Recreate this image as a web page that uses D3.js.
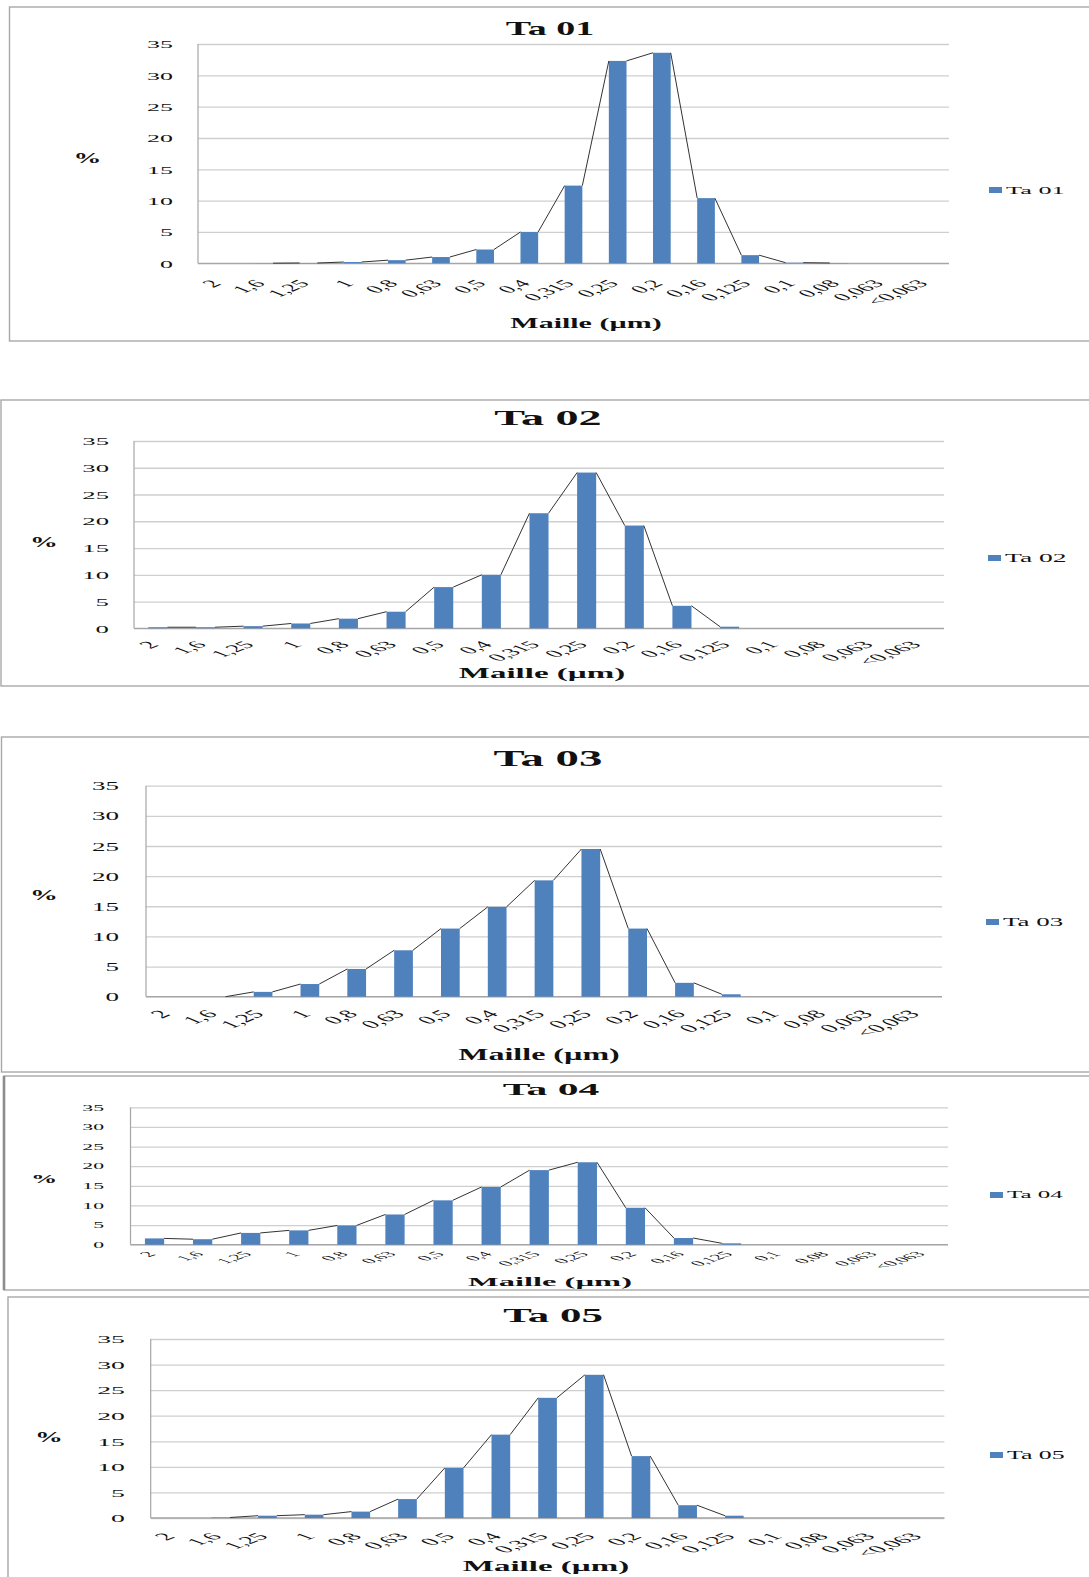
<!DOCTYPE html>
<html>
<head>
<meta charset="utf-8">
<script src="https://cdn.jsdelivr.net/npm/d3@7"></script>
<style>
  html, body { margin: 0; padding: 0; background: #fff; }
  svg { display: block; }
  text { font-family: "Liberation Serif", "Times New Roman", serif; fill: #111; }
</style>
</head>
<body>
<svg id="chart" width="1089" height="1577"></svg>
<script>
// Sieve classes (mesh size, µm) shared by every sample
const categories = ["2", "1,6", "1,25", "1", "0,8", "0,63", "0,5", "0,4", "0,315",
  "0,25", "0,2", "0,16", "0,125", "0,1", "0,08", "0,063", "<0,063"];

// Y axis ticks (%)
const yTicks = [0, 5, 10, 15, 20, 25, 30, 35];

// Weight percentage retained on each sieve, per sample (null = no measurement)
const ta01 = [null, 0.02, 0.05, 0.2, 0.5, 1.0, 2.2, 5.0, 12.4, 32.3, 33.6, 10.4, 1.3, 0.1, 0.05, null, null];
const ta02 = [0.2, 0.2, 0.4, 0.9, 1.8, 3.1, 7.7, 10.0, 21.5, 29.1, 19.2, 4.2, 0.3, null, null, null, null];
const ta03 = [null, 0, 0.8, 2.1, 4.6, 7.7, 11.3, 14.9, 19.3, 24.5, 11.3, 2.3, 0.4, null, null, null, null];
const ta04 = [1.6, 1.4, 3.0, 3.65, 4.9, 7.7, 11.3, 14.7, 19.0, 21.0, 9.4, 1.7, 0.35, null, null, null, null];
const ta05 = [null, 0.1, 0.45, 0.65, 1.25, 3.7, 9.8, 16.3, 23.5, 28.0, 12.1, 2.5, 0.45, null, null, null, null];

const sampleNames = ["Ta 01", "Ta 02", "Ta 03", "Ta 04", "Ta 05"];
const sampleValues = [ta01, ta02, ta03, ta04, ta05];

const yLabel = "%";
const xLabel = "Maille (µm)";

const BAR = "#4F81BD";

// Layout of each chart block on the page (text is drawn horizontally widened)
const layouts = [
  { frame: [9.5, 7, 1200, 334], plot: [198, 949, 263.3, 44],
    title: [550, 35, 19, 2.0], tick: [10.8, 2.4, 173], xTickOff: 21,
    pct: [87.5, 163, 15.5, 1.8], axisTitle: [586, 328, 15, 2.0], legend: [989, 190, 10.5, 2.5] },
  { frame: [1, 400, 1200, 286], plot: [134, 944, 628.3, 441],
    title: [548, 425, 21, 2.2], tick: [10.3, 2.6, 109], xTickOff: 17,
    pct: [44, 547, 15.5, 1.8], axisTitle: [542, 678, 15, 2.2], legend: [988, 558, 12, 2.3] },
  { frame: [1.5, 737, 1200, 335], plot: [146, 942, 996.7, 785.7],
    title: [548, 766, 22.5, 2.08], tick: [11.5, 2.35, 119], xTickOff: 18,
    pct: [44, 900, 15.5, 1.8], axisTitle: [539, 1060, 16, 2.0], legend: [986, 922, 12, 2.25] },
  { frame: [4, 1076, 1200, 214], plot: [130.5, 948, 1244.7, 1107.3],
    title: [551, 1095, 16, 2.6], tick: [7.5, 2.9, 104], xTickOff: 10,
    pct: [44, 1183, 12.5, 2.1], axisTitle: [550, 1286, 13, 2.5], legend: [990, 1195, 10, 2.5] },
  { frame: [8, 1297, 1200, 400], plot: [150.7, 944.4, 1518, 1339],
    title: [553, 1322, 19.5, 2.2], tick: [10.3, 2.7, 125], xTickOff: 19,
    pct: [49, 1442, 15.5, 1.8], axisTitle: [546, 1571, 15, 2.2], legend: [990, 1455, 12, 2.15] }
];

const svg = d3.select("#chart");
svg.append("rect").attr("width", 1089).attr("height", 1577).attr("fill", "#fff");

// Draws a horizontally widened piece of text
function wideText(g, x, y, str, size, sx, opts = {}) {
  return g.append("text")
    .attr("transform", `translate(${x},${y}) scale(${sx},1)`)
    .attr("text-anchor", opts.anchor || "middle")
    .attr("font-size", size)
    .attr("font-weight", opts.weight || "normal")
    .text(str);
}

sampleNames.forEach((name, k) => {
  const L = layouts[k];
  const values = sampleValues[k];
  const [px0, px1, py0, py35] = L.plot;
  const g = svg.append("g");

  // chart frame
  const [fx, fy, fw, fh] = L.frame;
  g.append("rect")
    .attr("x", fx).attr("y", fy).attr("width", fw).attr("height", fh)
    .attr("fill", "none").attr("stroke", "#a8a8a8").attr("stroke-width", 1.4);
  if (k === 3) {
    g.append("line").attr("x1", fx).attr("x2", fx).attr("y1", fy).attr("y2", fy + fh)
      .attr("stroke", "#8c8c8c").attr("stroke-width", 2.6);
  }

  const x = d3.scaleBand().domain(categories).range([px0, px1]).paddingInner(0).paddingOuter(0);
  const y = d3.scaleLinear().domain([0, 35]).range([py0, py35]);

  // Y axis with horizontal gridlines
  const [tSize, tSx, tRight] = L.tick;
  const yAxis = g.append("g")
    .attr("transform", `translate(${px0},0)`)
    .call(d3.axisLeft(y).tickValues(yTicks).tickSize(-(px1 - px0)).tickFormat(d3.format("d")));
  yAxis.select(".domain").remove();
  yAxis.selectAll(".tick line").attr("stroke", "#cfcfcf").attr("stroke-width", 1.3);
  yAxis.selectAll(".tick text")
    .attr("x", null).attr("dy", "0.36em")
    .attr("transform", `translate(${tRight - px0},0) scale(${tSx},1)`)
    .attr("text-anchor", "end")
    .attr("font-size", tSize)
    .attr("font-family", "'Liberation Serif', serif")
    .attr("fill", "#111");

  // vertical axis line and baseline
  g.append("line").attr("x1", px0).attr("x2", px0).attr("y1", py35).attr("y2", py0)
    .attr("stroke", "#a6a6a6").attr("stroke-width", 1.2);
  g.append("line").attr("x1", px0).attr("x2", px1).attr("y1", py0).attr("y2", py0)
    .attr("stroke", "#a6a6a6").attr("stroke-width", 1.3);

  // X axis: rotated class labels
  const xAxis = g.append("g")
    .attr("transform", `translate(0,${py0})`)
    .call(d3.axisBottom(x).tickSize(0));
  xAxis.select(".domain").remove();
  xAxis.selectAll(".tick text")
    .attr("y", null).attr("dy", null)
    .attr("transform", `translate(2,${L.xTickOff}) scale(${tSx},1) rotate(-45)`)
    .attr("text-anchor", "end")
    .attr("font-size", tSize)
    .attr("font-family", "'Liberation Serif', serif")
    .attr("fill", "#111");

  // bars (measured classes only)
  const bw = x.bandwidth() * 0.4;
  const off = (x.bandwidth() - bw) / 2;
  const points = values.map((v, i) => ({ cat: categories[i], v })).filter(d => d.v !== null);
  g.append("g").selectAll("rect")
    .data(points)
    .join("rect")
    .attr("x", d => x(d.cat) + off)
    .attr("width", bw)
    .attr("y", d => y(d.v))
    .attr("height", d => y(0) - y(d.v))
    .attr("fill", BAR);

  // series lines joining the top corners of neighbouring measured bars
  const segs = [];
  for (let i = 0; i < values.length - 1; i++) {
    if (values[i] === null || values[i + 1] === null) continue;
    segs.push([
      [x(categories[i]) + off + bw, y(values[i])],
      [x(categories[i + 1]) + off, y(values[i + 1])]
    ]);
  }
  g.append("g").selectAll("line")
    .data(segs)
    .join("line")
    .attr("x1", d => d[0][0]).attr("y1", d => d[0][1])
    .attr("x2", d => d[1][0]).attr("y2", d => d[1][1])
    .attr("stroke", "#333").attr("stroke-width", 1);

  // titles
  const [ttx, tty, tts, ttsx] = L.title;
  wideText(g, ttx, tty, name, tts, ttsx, { weight: "bold" });
  const [pcx, pcy, pcs, pcsx] = L.pct;
  wideText(g, pcx, pcy, yLabel, pcs, pcsx, { weight: "bold" });
  const [atx, aty, ats, atsx] = L.axisTitle;
  wideText(g, atx, aty, xLabel, ats, atsx, { weight: "bold" });

  // legend
  const [lx, ly, ls, lsx] = L.legend;
  g.append("rect").attr("x", lx).attr("y", ly - 3).attr("width", 13).attr("height", 6).attr("fill", BAR);
  wideText(g, lx + 17, ly + ls * 0.34, name, ls, lsx, { anchor: "start" });
});
</script>
</body>
</html>
